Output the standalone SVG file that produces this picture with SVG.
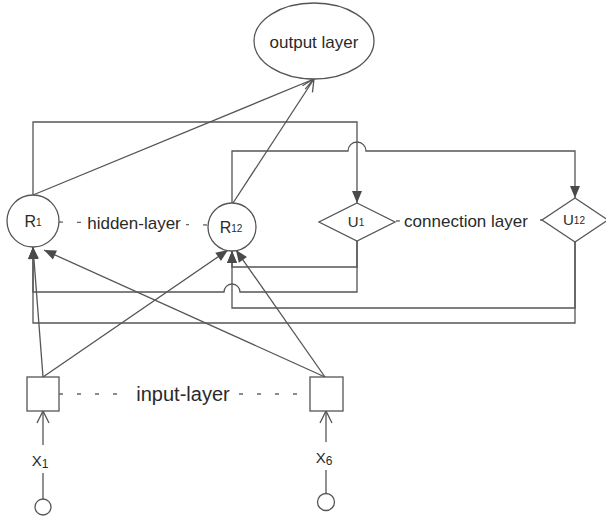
<svg xmlns="http://www.w3.org/2000/svg" width="606" height="522" viewBox="0 0 606 522">
<style>
  .ln{fill:none;stroke:#555;stroke-width:1.3}
  .dash{fill:none;stroke:#666;stroke-width:1.3;stroke-dasharray:4 14}
  .shape{fill:#fff;stroke:#555;stroke-width:1.3}
  .t{font-family:"Liberation Sans",Arial,sans-serif;fill:#2a2a2a}
  .bg{fill:#fff}
</style>
<defs>
  <marker id="af" markerWidth="12" markerHeight="10" refX="12" refY="5" orient="auto" markerUnits="userSpaceOnUse" overflow="visible">
    <path d="M0,0 L12,5 L0,10 Z" fill="#4a4a4a"/>
  </marker>
  <marker id="ao" markerWidth="13" markerHeight="13" refX="12" refY="6" orient="auto" markerUnits="userSpaceOnUse" overflow="visible">
    <path d="M0,0 L12,6 L0,12" fill="none" stroke="#555" stroke-width="1.3"/>
  </marker>
</defs>
<rect width="606" height="522" fill="#fff"/>

<g id="connectors">
  <!-- to output -->
  <line class="ln" x1="33" y1="195" x2="314" y2="79" marker-end="url(#ao)"/>
  <line class="ln" x1="233" y1="203" x2="314" y2="79" marker-end="url(#ao)"/>
  <!-- R1 -> U1 -->
  <path class="ln" d="M33,195 V122 H357 V203" marker-end="url(#af)"/>
  <!-- R12 -> U12 with hop -->
  <path class="ln" d="M232,203 V151 H348 A9,9 0 0 1 366,151 H575 V198" marker-end="url(#af)"/>
  <!-- U1 -> R12 -->
  <path class="ln" d="M357,241 V267 H232 V251" marker-end="url(#af)"/>
  <!-- U1 -> R1 with hop -->
  <path class="ln" d="M357,241 V292 H240 A8,8 0 0 0 224,292 H33 V247" marker-end="url(#af)"/>
  <!-- U12 -> R12 -->
  <path class="ln" d="M575,242 V308 H232 V251" marker-end="url(#af)"/>
  <!-- U12 -> R1 -->
  <path class="ln" d="M575,242 V323 H33 V247" marker-end="url(#af)"/>
  <!-- inputs to hidden -->
  <line class="ln" x1="43" y1="377" x2="33" y2="247" marker-end="url(#af)"/>
  <line class="ln" x1="43" y1="377" x2="228" y2="250" marker-end="url(#af)"/>
  <line class="ln" x1="325" y1="377" x2="44" y2="250" marker-end="url(#af)"/>
  <line class="ln" x1="325" y1="377" x2="236" y2="250" marker-end="url(#af)"/>
  <!-- source to input -->
  <line class="ln" x1="43" y1="445" x2="43" y2="411" marker-end="url(#ao)"/>
  <line class="ln" x1="43" y1="473" x2="43" y2="499"/>
  <line class="ln" x1="326" y1="442" x2="326" y2="411" marker-end="url(#ao)"/>
  <line class="ln" x1="326" y1="470" x2="326" y2="493"/>
  <!-- layer dashed links -->
  <line class="dash" x1="59" y1="222" x2="208" y2="225"/>
  <rect class="bg" x="85" y="212" width="101" height="22"/>
  <text class="t" x="134" y="229" font-size="17" text-anchor="middle">hidden-layer</text>
  <line class="dash" x1="396" y1="221" x2="542" y2="220" stroke-dasharray="6 130"/>
  <rect class="bg" x="402" y="210" width="131" height="22"/>
  <text class="t" x="466" y="227" font-size="17" text-anchor="middle">connection layer</text>
  <line class="dash" x1="59" y1="394" x2="310" y2="394"/>
  <rect class="bg" x="128" y="381" width="110" height="26"/>
  <text class="t" x="183" y="401" font-size="20" text-anchor="middle">input-layer</text>
</g>

<g id="output">
  <ellipse class="shape" cx="314" cy="41" rx="60" ry="38"/>
  <text class="t" x="314" y="48" font-size="17" text-anchor="middle">output layer</text>
</g>
<g id="R1">
  <circle class="shape" cx="33" cy="221" r="26"/>
  <text class="t" x="33" y="227" font-size="16" text-anchor="middle">R<tspan font-size="10" dy="-1">1</tspan></text>
</g>
<g id="R12">
  <circle class="shape" cx="232" cy="227" r="24"/>
  <text class="t" x="231" y="233" font-size="16" text-anchor="middle">R<tspan font-size="10" dy="-1">12</tspan></text>
</g>
<g id="U1">
  <polygon class="shape" points="357,203 395,222 357,241 319,222"/>
  <text class="t" x="356" y="227" font-size="15" text-anchor="middle">U<tspan font-size="10" dy="-1">1</tspan></text>
</g>
<g id="U12">
  <polygon class="shape" points="575,198 608,220 575,242 542,220"/>
  <text class="t" x="574" y="225" font-size="15" text-anchor="middle">U<tspan font-size="10" dy="-1">12</tspan></text>
</g>
<g id="in1">
  <rect class="shape" x="27" y="377" width="32" height="34"/>
</g>
<g id="in6">
  <rect class="shape" x="310" y="377" width="33" height="34"/>
</g>
<g id="x1">
  <text class="t" x="40" y="466" font-size="15" text-anchor="middle">X<tspan font-size="12" dy="2">1</tspan></text>
  <circle class="shape" cx="43" cy="507" r="8"/>
</g>
<g id="x6">
  <text class="t" x="324" y="463" font-size="15" text-anchor="middle">X<tspan font-size="12" dy="2">6</tspan></text>
  <circle class="shape" cx="326" cy="502" r="8.5"/>
</g>
</svg>
